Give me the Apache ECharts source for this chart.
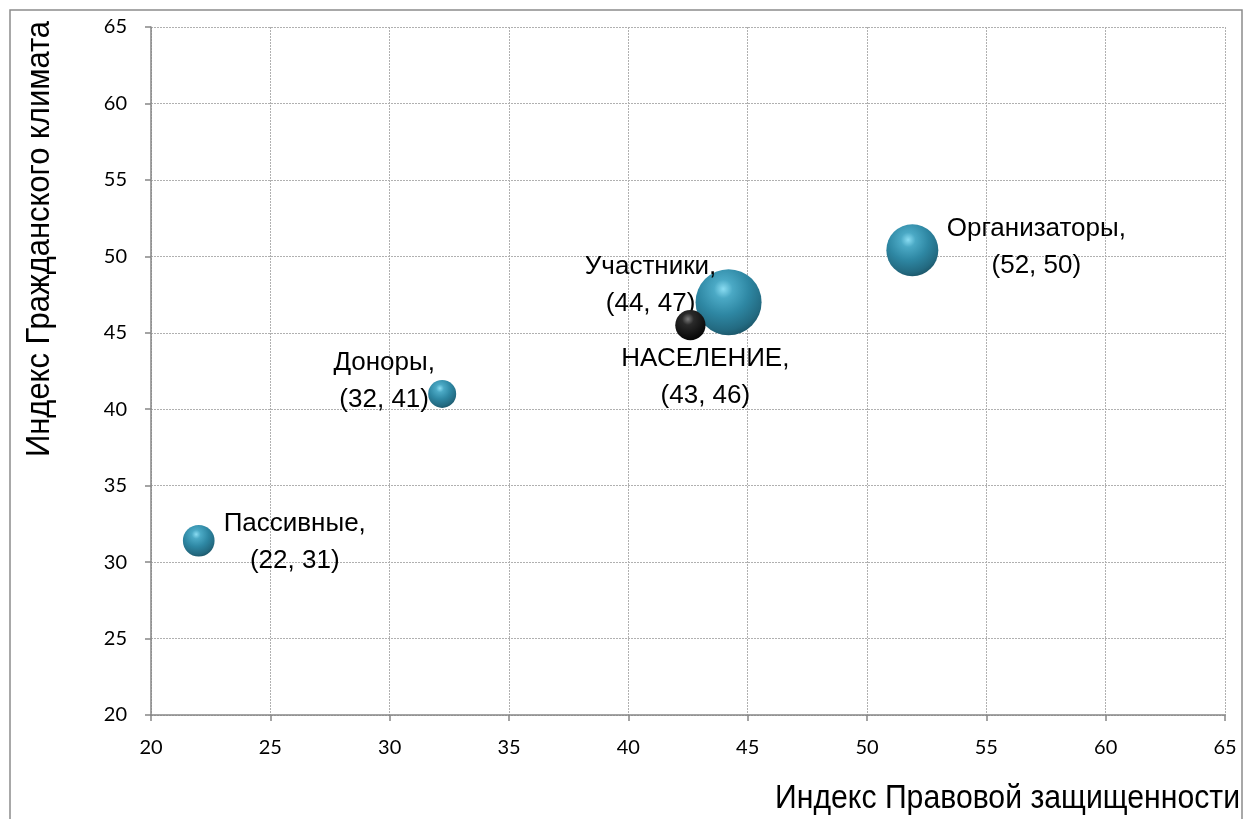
<!DOCTYPE html>
<html>
<head>
<meta charset="utf-8">
<script src="https://cdn.jsdelivr.net/npm/echarts@6/dist/echarts.min.js"></script>
<style>
  html, body { margin: 0; padding: 0; background: #fff; }
  #chart { width: 1246px; height: 819px; }
</style>
</head>
<body>
<div id="chart"></div>
<script>
// группы респондентов
var groupNames = ['Пассивные', 'Доноры', 'Участники', 'Организаторы'];
var groupX = [22.0, 32.2, 44.2, 51.9];      // Индекс Правовой защищенности
var groupY = [31.4, 41.0, 47.0, 50.4];      // Индекс Гражданского климата
var groupSize = [23, 18, 100, 62];          // размер пузырька

// население в целом
var popName = 'НАСЕЛЕНИЕ';
var popX = 42.6;
var popY = 45.5;
var popSize = 21;

var xTitle = 'Индекс Правовой защищенности';
var yTitle = 'Индекс Гражданского климата';

// сдвиг подписей относительно центра пузырька
var groupLabelOffset = [[96, 2], [-58, -13], [-78, -17], [124, -3]];
var popLabelOffset = [15, 52];

var sans = "'Liberation Sans', Arial, sans-serif";

function bubble(v) { return 66 * Math.sqrt(v / 100); }

function labelText(p) {
  return p.name + ',\n(' + Math.round(p.value[0]) + ', ' + Math.round(p.value[1]) + ')';
}

var tealBall = {
  type: 'radial', x: 0.42, y: 0.3, r: 0.78,
  colorStops: [
    {offset: 0, color: '#8adcf2'},
    {offset: 0.18, color: '#4ba9c5'},
    {offset: 0.5, color: '#2e87a3'},
    {offset: 0.8, color: '#236a81'},
    {offset: 1, color: '#184a5a'}
  ]
};
var blackBall = {
  type: 'radial', x: 0.42, y: 0.3, r: 0.78,
  colorStops: [
    {offset: 0, color: '#7a7a7a'},
    {offset: 0.25, color: '#2a2a2a'},
    {offset: 1, color: '#000'}
  ]
};

var groupData = [];
for (var i = 0; i < groupNames.length; i++) {
  groupData.push({
    name: groupNames[i],
    value: [groupX[i], groupY[i], groupSize[i]],
    label: {offset: groupLabelOffset[i]}
  });
}

var labelStyle = {
  show: true, position: 'inside', formatter: labelText,
  color: '#000', textBorderWidth: 0, fontFamily: sans, fontSize: 26,
  lineHeight: 37, align: 'center', verticalAlign: 'middle'
};

var option = {
  backgroundColor: '#fff',
  animation: false,
  graphic: [{
    type: 'rect', shape: {x: 10, y: 10, width: 1232, height: 812},
    style: {fill: 'none', stroke: '#8c8c8c', lineWidth: 1.5}, silent: true
  }, {
    // подписи осей в оригинале немного сжаты
    type: 'text', x: 1240, y: 815, scaleX: 0.915,
    style: {text: xTitle, fontFamily: sans, fontSize: 33, fill: '#000', align: 'right', verticalAlign: 'bottom'}
  }, {
    type: 'text', x: 23, y: 457, rotation: Math.PI / 2, scaleX: 0.91,
    style: {text: yTitle, fontFamily: sans, fontSize: 34, fill: '#000'}
  }],
  grid: {left: 151, right: 21, top: 27, bottom: 104},
  xAxis: {
    type: 'value', min: 20, max: 65, interval: 5,
    axisLine: {show: true, onZero: false, lineStyle: {color: '#868686', width: 1.5}},
    axisTick: {show: true, length: 6, lineStyle: {color: '#868686', width: 1.5}},
    axisLabel: {margin: 23, color: '#000', fontFamily: 'Lato', fontSize: 20},
    splitLine: {show: true, lineStyle: {color: '#b0b0b0', type: [2, 1], width: 1}}
  },
  yAxis: {
    type: 'value', min: 20, max: 65, interval: 5,
    axisLine: {show: true, onZero: false, lineStyle: {color: '#868686', width: 1.5}},
    axisTick: {show: true, length: 6, lineStyle: {color: '#868686', width: 1.5}},
    axisLabel: {margin: 24, color: '#000', fontFamily: 'Lato', fontSize: 20},
    splitLine: {show: true, lineStyle: {color: '#b0b0b0', type: [2, 1], width: 1}}
  },
  series: [{
    name: 'Группы', type: 'scatter',
    symbolSize: function (v) { return bubble(v[2]); },
    itemStyle: {color: tealBall, opacity: 1},
    label: labelStyle,
    data: groupData,
    z: 2
  }, {
    name: popName, type: 'scatter',
    symbolSize: function (v) { return bubble(v[2]); },
    itemStyle: {color: blackBall, opacity: 1},
    label: labelStyle,
    data: [{name: popName, value: [popX, popY, popSize], label: {offset: popLabelOffset}}],
    z: 3
  }]
};

var myChart = echarts.init(document.getElementById('chart'));
myChart.setOption(option);
</script>
</body>
</html>
